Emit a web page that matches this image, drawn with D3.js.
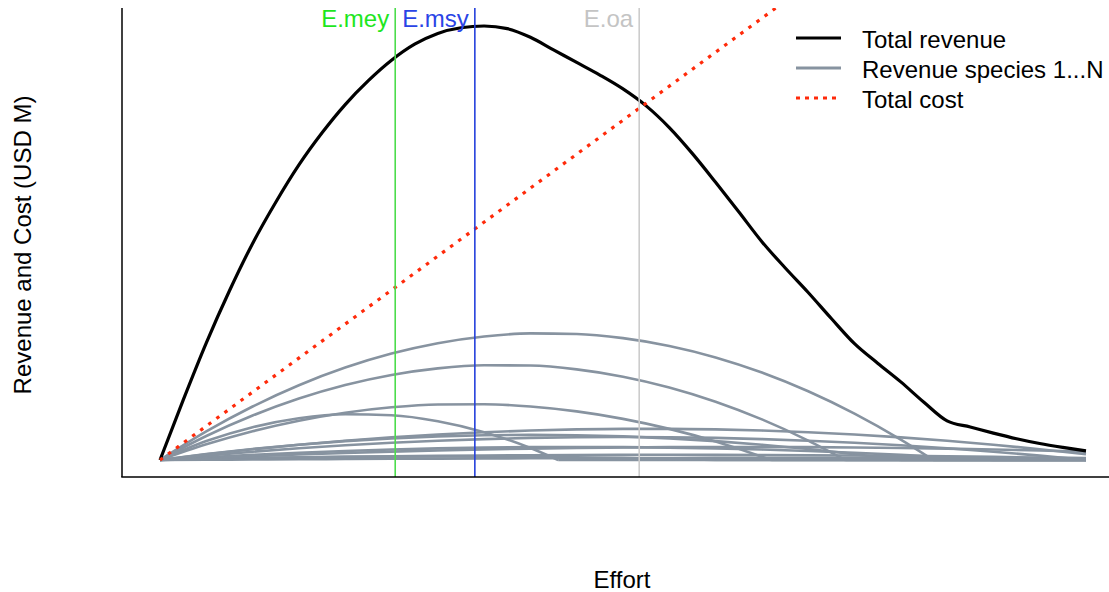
<!DOCTYPE html>
<html><head><meta charset="utf-8">
<script src="https://cdn.jsdelivr.net/npm/d3@7"></script>
<style>
body{margin:0;background:#fff}
svg{display:block}
text{font-family:"Liberation Sans",Arial,sans-serif}
</style>
</head><body>
<svg id="chart" width="1109" height="592"></svg>
<script>
// ---- data (values in USD M, effort in arbitrary units) ----
const effortFine = [0,0.5,1,1.5,2,2.5,3,3.5,4,4.5,5,5.5,6,6.5,7,7.5,8,8.5,9,9.5,10,10.5,11,11.5,12,12.5,13,13.5,14,14.5,15,15.5,16,16.5,17,17.5,18,18.5,19,19.5,20];
const totalRevenue = [0,13.8,27.0,39.0,49.9,59.4,68.0,75.4,81.9,87.4,92.1,95.8,98.3,99.6,100.0,99.4,97.4,94.5,91.6,88.7,85.5,81.6,76.6,70.6,64.0,57.2,50.3,44.3,38.6,32.6,26.8,22.3,18.0,13.3,9.0,7.6,6.2,4.9,3.8,2.9,2.1];

const effortGrid = [0,1,2,3,4,5,6,7,8,9,10,11,12,13,14,15,16,17,18,19,20];
const speciesA = [0,6.58,12.32,17.23,21.29,24.52,26.91,28.46,29.17,29.05,28.08,26.28,23.64,20.16,15.84,10.69,4.69,0,0,0,0];
const speciesB = [0,5.52,10.24,14.16,17.28,19.60,21.12,21.84,21.76,20.88,19.20,16.72,13.44,9.36,4.48,0,0,0,0,0,0];
const speciesC = [0,3.61,6.64,9.06,10.90,12.14,12.80,12.86,12.32,11.20,9.48,7.17,4.27,0.77,0,0,0,0,0,0,0];
const speciesD = [0,4.36,7.57,9.63,10.55,10.32,8.94,6.42,2.75,0,0,0,0,0,0,0,0,0,0,0,0];
const speciesE = [0,1.31,2.48,3.53,4.44,5.22,5.88,6.40,6.79,7.05,7.18,7.18,7.05,6.79,6.40,5.88,5.22,4.44,3.53,2.48,1.31];
const speciesF = [0,1.36,2.54,3.53,4.35,4.98,5.44,5.71,5.80,5.71,5.44,4.98,4.35,3.53,2.54,1.36,0,0,0,0,0];
const speciesG = [0,1.01,1.91,2.70,3.39,3.98,4.45,4.82,5.09,5.25,5.30,5.25,5.09,4.82,4.45,3.98,3.39,2.70,1.91,1.01,0];
const speciesH = [0,0.63,1.19,1.67,2.08,2.41,2.67,2.85,2.96,3.00,2.96,2.85,2.67,2.41,2.08,1.67,1.19,0.63,0,0,0];
const speciesI = [0,0.46,0.88,1.27,1.61,1.92,2.19,2.42,2.61,2.76,2.88,2.96,3.00,3.00,2.96,2.88,2.76,2.61,2.42,2.19,1.92];
const speciesJ = [0,0.21,0.40,0.56,0.71,0.84,0.95,1.04,1.11,1.16,1.19,1.20,1.19,1.16,1.11,1.04,0.95,0.84,0.71,0.56,0.40];
const speciesK = [0,0.24,0.45,0.60,0.71,0.78,0.80,0.78,0.71,0.60,0.45,0.24,0,0,0,0,0,0,0,0,0];
const speciesL = [0,0.06,0.12,0.18,0.23,0.28,0.32,0.36,0.39,0.42,0.45,0.47,0.48,0.49,0.50,0.50,0.50,0.49,0.48,0.47,0.45];
const speciesValues = [speciesA,speciesB,speciesC,speciesD,speciesE,speciesF,speciesG,speciesH,speciesI,speciesJ,speciesK,speciesL];
// effort at which each species' revenue falls to zero (null = stays positive)
const speciesEnd = [16.7,14.8,13.2,8.6,null,16,20,18,null,null,12,null];

const costEffort = [0,20];
const totalCost = [0,156.6];

const refNames = ["E.mey","E.msy","E.oa"];
const refEffort = [5.08,6.8,10.35];
const refLineColors = ["#4cdc4c","#2540dc","#cccccc"];
const refTextColors = ["#1ee61e","#2a44e6","#c4c4c4"];

const legendLabels = ["Total revenue","Revenue species 1...N","Total cost"];

// ---- drawing ----
const svg = d3.select("#chart");
const x = d3.scaleLinear().domain([-0.821,20.497]).range([122,1109]);
const y = d3.scaleLinear().domain([-3.917,104.15]).range([477,8]);

svg.append("defs").append("clipPath").attr("id","clip")
  .append("rect").attr("x",122).attr("y",8).attr("width",987).attr("height",469);

const plot = svg.append("g").attr("clip-path","url(#clip)");
const line = d3.line().x(d=>x(d[0])).y(d=>y(d[1])).curve(d3.curveMonotoneX);
const lineLin = d3.line().x(d=>x(d[0])).y(d=>y(d[1]));

const grey = "#8793a0";
speciesValues.forEach((vals,i)=>{
  const end = speciesEnd[i];
  let pre = [], post = [];
  effortGrid.forEach((e,k)=>{
    if(end===null || e<end) pre.push([e,vals[k]]);
  });
  if(end!==null){
    pre.push([end,0]);
    post.push([end,0]);
    effortGrid.forEach((e,k)=>{ if(e>end) post.push([e,vals[k]]); });
  }
  plot.append("path").attr("d",line(pre)).attr("fill","none")
    .attr("stroke",grey).attr("stroke-width",2.6).attr("stroke-linejoin","round");
  if(post.length>1){
    plot.append("path").attr("d",lineLin(post)).attr("fill","none")
      .attr("stroke",grey).attr("stroke-width",2.6);
  }
});

plot.append("path")
  .attr("d",line(effortFine.map((e,i)=>[e,totalRevenue[i]])))
  .attr("fill","none").attr("stroke","#000").attr("stroke-width",3.2)
  .attr("stroke-linejoin","round");

plot.append("path")
  .attr("d",lineLin(costEffort.map((e,i)=>[e,totalCost[i]])))
  .attr("fill","none").attr("stroke","#ff2a0a").attr("stroke-width",3.2)
  .attr("stroke-dasharray","3.5,6.5");

refEffort.forEach((e,i)=>{
  svg.append("line").attr("x1",x(e)).attr("x2",x(e)).attr("y1",y.range()[1]).attr("y2",y.range()[0])
    .attr("stroke",refLineColors[i]).attr("stroke-width",1.6);
  svg.append("text").attr("x",x(e)-6).attr("y",27).attr("text-anchor","end")
    .attr("font-size",24).attr("fill",refTextColors[i]).text(refNames[i]);
});

// axes (no ticks)
svg.append("line").attr("x1",122).attr("x2",122).attr("y1",8).attr("y2",477)
  .attr("stroke","#000").attr("stroke-width",1.5);
svg.append("line").attr("x1",121.25).attr("x2",1109).attr("y1",477).attr("y2",477)
  .attr("stroke","#000").attr("stroke-width",1.5);

svg.append("text").attr("x",622).attr("y",588).attr("text-anchor","middle")
  .attr("font-size",24).attr("fill","#000").text("Effort");
svg.append("text").attr("transform","translate(31,245) rotate(-90)").attr("text-anchor","middle")
  .attr("font-size",24).attr("fill","#000").text("Revenue and Cost (USD M)");

// legend
const legStyles = [
  {stroke:"#000",w:3,dash:null},
  {stroke:grey,w:3,dash:null},
  {stroke:"#ff2a0a",w:3,dash:"4,5"}
];
legendLabels.forEach((lab,i)=>{
  const cy = 38 + i*30;
  svg.append("line").attr("x1",796).attr("x2",841).attr("y1",cy).attr("y2",cy)
    .attr("stroke",legStyles[i].stroke).attr("stroke-width",legStyles[i].w)
    .attr("stroke-dasharray",legStyles[i].dash);
  svg.append("text").attr("x",862).attr("y",cy+10).attr("font-size",24)
    .attr("fill","#000").text(lab);
});
</script>
</body></html>
